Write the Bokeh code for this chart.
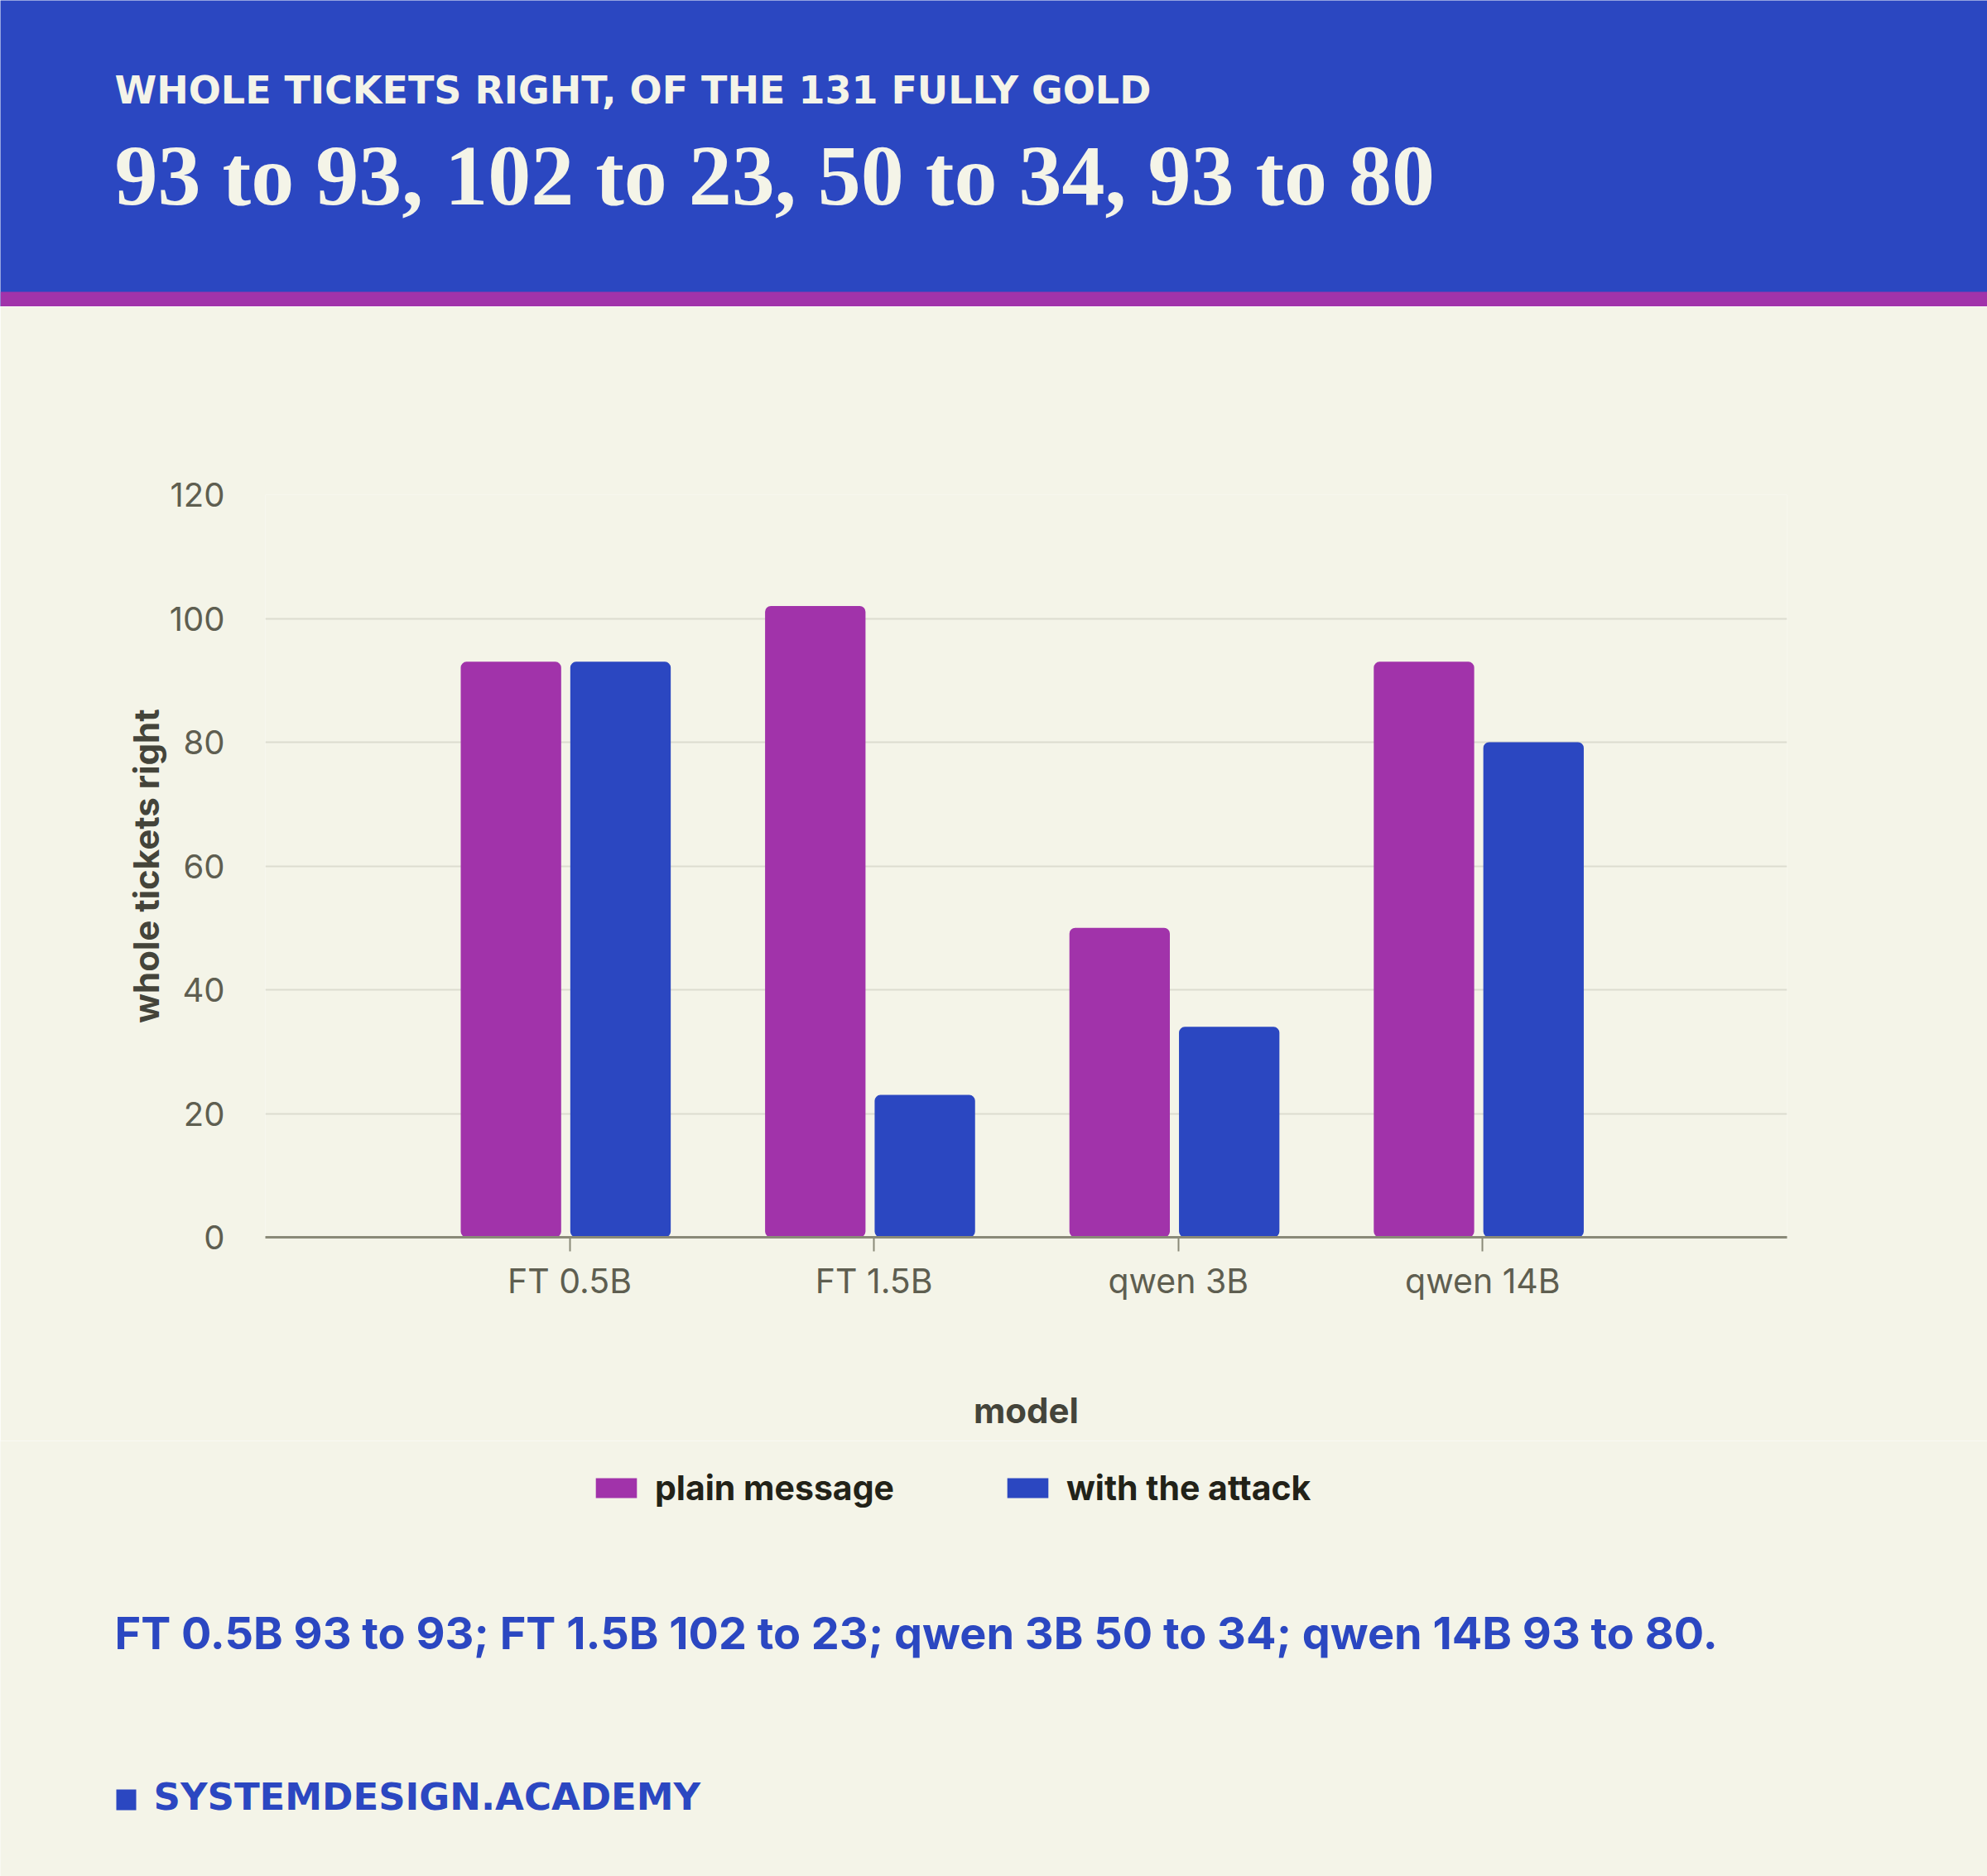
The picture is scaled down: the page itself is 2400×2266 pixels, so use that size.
from bokeh.plotting import figure
from bokeh.layouts import column, row
from bokeh.models import (ColumnDataSource, Range1d, FixedTicker, Label,
                          BoxAnnotation, Legend, LegendItem)
from bokeh.embed import file_html
from bokeh.resources import INLINE

# data
models = ["FT 0.5B", "FT 1.5B", "qwen 3B", "qwen 14B"]
plain = [93, 102, 50, 93]
attack = [93, 23, 34, 80]
y_ticks = [0, 20, 40, 60, 80, 100, 120]
gold_total = 131

BLUE = "#2B47C1"
PURPLE = "#A133AA"
CREAM = "#F4F4E8"
INK = "#44443A"
W = 2400
H_HEAD, H_CHART, H_FOOT = 370, 1370, 526

# labels with text_baseline="alphabetic" land about 0.375em low, so lift them
def base(y, size):
    return y - 0.375 * size

pos = list(range(1, len(models) + 1))
src = ColumnDataSource(dict(
    x_plain=[i - 0.193 for i in pos],
    x_attack=[i + 0.167 for i in pos],
    plain=plain, attack=attack, model=models))

# header band
# note: a bold font at "100px" trips the svg font parser (reads 100 as a weight)
head = figure(width=W, height=H_HEAD, x_range=Range1d(0, W), y_range=Range1d(H_HEAD, 0),
              x_axis_type=None, y_axis_type=None, min_border=0,
              background_fill_color=BLUE, border_fill_color=BLUE, outline_line_color=None,
              output_backend="svg", toolbar_location=None)
head.add_layout(BoxAnnotation(top=352, bottom=H_HEAD, fill_color=PURPLE, fill_alpha=1, line_color=None))
head.add_layout(Label(x=138, y=base(126, 46), text=f"WHOLE TICKETS RIGHT, OF THE {gold_total} FULLY GOLD",
                      text_font="DejaVu Sans", text_font_style="bold", text_font_size="46px",
                      text_color=CREAM, text_baseline="alphabetic"))
head.add_layout(Label(x=138, y=base(250, 104), text=", ".join(f"{a} to {b}" for a, b in zip(plain, attack)),
                      text_font="Liberation Serif", text_font_style="bold", text_font_size="104px",
                      text_color=CREAM, text_baseline="alphabetic"))

# the chart
p = figure(width=W, height=H_CHART, frame_width=1838, frame_height=897,
           x_range=Range1d(0, len(models) + 1), y_range=Range1d(0, 120),
           min_border_left=320, min_border_right=242, min_border_top=227, min_border_bottom=246,
           background_fill_color=CREAM, border_fill_color=CREAM, outline_line_color=None,
           output_backend="svg", toolbar_location=None)
p.vbar(x="x_plain", top="plain", width=0.33, source=src, fill_color=PURPLE,
       line_color=None, border_radius=7)
p.vbar(x="x_attack", top="attack", width=0.33, source=src, fill_color=BLUE,
       line_color=None, border_radius=7)

p.xaxis.ticker = FixedTicker(ticks=pos)
p.xaxis.major_label_overrides = {i: m for i, m in zip(pos, models)}
p.xaxis.axis_line_color = "#8A8A78"
p.xaxis.axis_line_width = 3
p.xaxis.major_tick_line_color = "#8A8A78"
p.xaxis.major_tick_line_width = 2
p.xaxis.major_tick_in = 0
p.xaxis.major_tick_out = 17
p.xaxis.minor_tick_line_color = None
p.xaxis.major_label_standoff = 10
p.xaxis.major_label_text_font_size = "41px"
p.xaxis.axis_label = "model"
p.xaxis.axis_label_standoff = 103
p.xgrid.visible = False

p.yaxis.ticker = FixedTicker(ticks=y_ticks)
p.yaxis.axis_line_color = None
p.yaxis.major_tick_line_color = None
p.yaxis.minor_tick_line_color = None
p.yaxis.major_label_standoff = 43
p.yaxis.major_label_text_font_size = "40px"
p.yaxis.axis_label = "whole tickets right"
p.yaxis.axis_label_standoff = 0
p.ygrid.ticker = FixedTicker(ticks=y_ticks)
p.ygrid.grid_line_color = "#DCDCCF"
p.ygrid.grid_line_width = 2

for ax in p.axis:
    ax.major_label_text_font = "Inter"
    ax.major_label_text_color = "#5E5E50"
    ax.axis_label_text_font = "Inter"
    ax.axis_label_text_font_size = "42px"
    ax.axis_label_text_font_style = "bold"
    ax.axis_label_text_color = INK

# footer: legend, caption, brand
foot = figure(width=W, height=H_FOOT, x_range=Range1d(0, W), y_range=Range1d(H_FOOT, 0),
              x_axis_type=None, y_axis_type=None, min_border=0,
              background_fill_color=CREAM, border_fill_color=CREAM, outline_line_color=None,
              output_backend="svg", toolbar_location=None)

# hidden copies of the two series, only there to lend the legend its swatches
k1 = foot.vbar(x="x_plain", top="plain", width=1, source=src, fill_color=PURPLE,
               line_color=None, visible=False)
k2 = foot.vbar(x="x_attack", top="attack", width=1, source=src, fill_color=BLUE,
               line_color=None, visible=False)
legend = Legend(items=[LegendItem(label="plain message", renderers=[k1]),
                       LegendItem(label="with the attack", renderers=[k2])],
                orientation="horizontal", location=(713, 444),
                label_text_font="Inter", label_text_font_style="bold",
                label_text_font_size="41px", label_text_color="#222218",
                glyph_width=62, glyph_height=30, label_standoff=16, spacing=130,
                padding=0, margin=0, border_line_color=None, background_fill_alpha=0)
foot.add_layout(legend)

foot.add_layout(Label(x=138, y=base(252, 54),
                      text="; ".join(f"{m} {a} to {b}" for m, a, b in zip(models, plain, attack)) + ".",
                      text_font="Inter", text_font_style="bold", text_font_size="54px",
                      text_color=BLUE, text_baseline="alphabetic"))
foot.add_layout(BoxAnnotation(left=140, right=164, top=421, bottom=446,
                              fill_color=BLUE, fill_alpha=1, line_color=None))
foot.add_layout(Label(x=185, y=base(447, 45), text="SYSTEMDESIGN.ACADEMY",
                      text_font="DejaVu Sans", text_font_style="bold", text_font_size="45px",
                      text_color=BLUE, text_baseline="alphabetic"))

# one row per band so the column does not line the frames up
page = column(row(head), row(p), row(foot), spacing=0)
open("out.html", "w").write(file_html(page, INLINE))
